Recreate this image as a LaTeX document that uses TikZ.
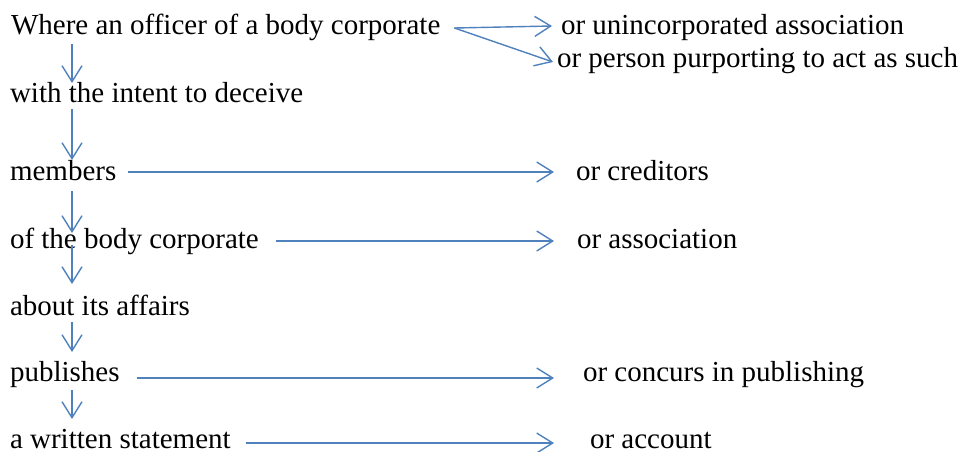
\documentclass[tikz,border=0pt]{standalone}
\usepackage{fontspec}
\setmainfont{Liberation Serif}
\usetikzlibrary{arrows.meta,calc}
\definecolor{arrblue}{RGB}{79,129,189}
\begin{document}
\begin{tikzpicture}[
  txt/.style={anchor=base west,inner sep=0pt,outer sep=0pt,font=\fontsize{29}{30}\selectfont},
  arr/.style={draw=arrblue,line width=1.4pt,-{Straight Barb[length=16pt,width=20pt,line width=1.4pt]}}
]
\path[use as bounding box] (0,0) rectangle (971pt,-452pt);
% left column
\node[txt] (l1) at (11pt,-35pt) {Where an officer of a body corporate};
\node[txt] (l2) at (10pt,-102pt) {with the intent to deceive};
\node[txt] (l3) at (10pt,-180pt) {members};
\node[txt] (l4) at (10pt,-248pt) {of the body corporate};
\node[txt] (l5) at (10pt,-315pt) {about its affairs};
\node[txt] (l6) at (10pt,-381pt) {publishes};
\node[txt] (l7) at (10pt,-448pt) {a written statement};
% right column
\node[txt] (r1) at (561pt,-35pt) {or unincorporated association};
\node[txt] (r2) at (557pt,-67pt) {or person purporting to act as such};
\node[txt] (r3) at (576pt,-180pt) {or creditors};
\node[txt] (r4) at (577pt,-248pt) {or association};
\node[txt] (r5) at (583pt,-381pt) {or concurs in publishing};
\node[txt] (r6) at (590pt,-448pt) {or account};
% vertical arrows
\draw[arr] ($(l1.base west)+(61pt,-9pt)$) -- ($(l2.base west)+(62pt,19pt)$);
\draw[arr] ($(l2.base west)+(62pt,-7pt)$) -- ($(l3.base west)+(62pt,20pt)$);
\draw[arr] ($(l3.base west)+(62pt,-11pt)$) -- ($(l4.base west)+(62pt,15pt)$);
\draw[arr] ($(l4.base west)+(62pt,3pt)$) -- ($(l5.base west)+(62pt,31pt)$);
\draw[arr] ($(l5.base west)+(62pt,-7pt)$) -- ($(l6.base west)+(62pt,29pt)$);
\draw[arr] ($(l6.base west)+(62pt,-9pt)$) -- ($(l7.base west)+(62pt,29pt)$);
% horizontal arrows
\coordinate (s1) at ($(l1.base east)+(14pt,7pt)$);
\draw[arr] (s1) -- ($(r1.base west)+(-9pt,9pt)$);
\draw[arr] (s1) -- ($(r2.base west)+(-4pt,5pt)$);
\draw[arr] ($(l3.base east)+(12pt,8pt)$) -- ($(r3.base west)+(-22pt,8pt)$);
\draw[arr] ($(l4.base east)+(17pt,7pt)$) -- ($(r4.base west)+(-23pt,7pt)$);
\draw[arr] ($(l6.base east)+(17pt,3pt)$) -- ($(r5.base west)+(-29pt,3pt)$);
\draw[arr] ($(l7.base east)+(15pt,5pt)$) -- ($(r6.base west)+(-36pt,5pt)$);
\end{tikzpicture}
\end{document}
